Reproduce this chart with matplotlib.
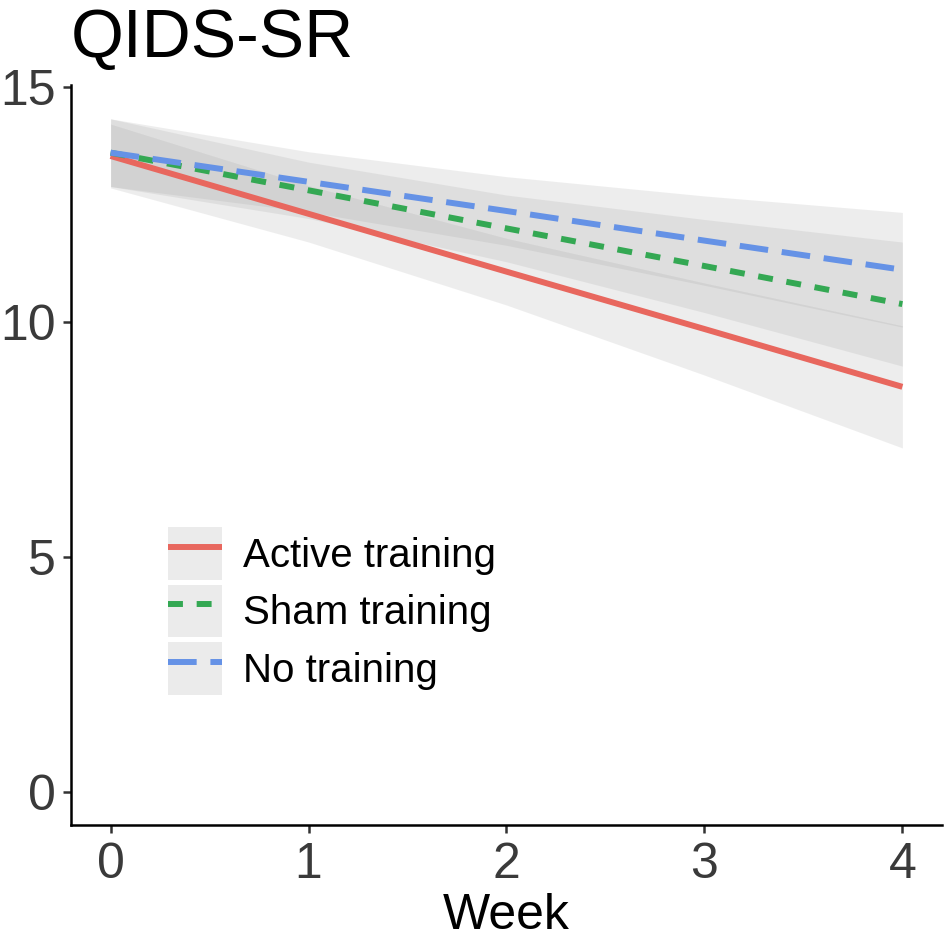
import matplotlib
matplotlib.use("Agg")
import matplotlib.pyplot as plt
from matplotlib.patches import Rectangle

plt.rcParams['font.family'] = ['Liberation Sans', 'DejaVu Sans']

# ----------------------------------------
# Data
# ----------------------------------------
weeks = [0, 1, 2, 3, 4]
groups = ["Active training", "Sham training", "No training"]

active_mean = [13.53, 12.30, 11.07, 9.85, 8.62]
active_low = [12.85, 11.70, 10.36, 8.87, 7.32]
active_high = [14.21, 12.90, 11.78, 10.83, 9.92]

sham_mean = [13.60, 12.80, 11.99, 11.19, 10.38]
sham_low = [12.88, 12.20, 11.28, 10.20, 9.06]
sham_high = [14.32, 13.40, 12.70, 12.18, 11.70]

none_mean = [13.60, 12.98, 12.36, 11.73, 11.11]
none_low = [12.88, 12.34, 11.63, 10.78, 9.89]
none_high = [14.32, 13.62, 13.09, 12.68, 12.33]

colors = ['#E8675E', '#34A853', '#6592E6']
dashes = [None, (2.5, 2.3), (4.8, 2.3)]

means = [active_mean, sham_mean, none_mean]
lows = [active_low, sham_low, none_low]
highs = [active_high, sham_high, none_high]

# ----------------------------------------
# Plot
# ----------------------------------------
fig = plt.figure(figsize=(9.45, 9.4), dpi=100)
ax = fig.add_axes([0.0751, 0.1223, 0.9217, 0.7873])

# confidence ribbons
for lo, hi in zip(lows, highs):
    ax.fill_between(weeks, lo, hi, color='#999999', alpha=0.17, linewidth=0, zorder=1)

# fitted lines + legend keys (grey key background like ggplot)
handles = []
for name, m, c, d in zip(groups, means, colors, dashes):
    if d is None:
        ln, = ax.plot(weeks, m, color=c, linewidth=4.3, solid_capstyle='butt', zorder=3)
    else:
        ln, = ax.plot(weeks, m, color=c, linewidth=4.3, linestyle=(0, d),
                      dash_capstyle='butt', zorder=3)
    key_bg = Rectangle((0, 0), 1, 1, facecolor='#EBEBEB', edgecolor='none')
    handles.append((key_bg, ln))

ax.set_xlim(-0.2, 4.2)
ax.set_ylim(-0.7, 15.04)
ax.set_xticks([0, 1, 2, 3, 4])
ax.set_yticks([0, 5, 10, 15])

for side in ['top', 'right']:
    ax.spines[side].set_visible(False)
for side in ['left', 'bottom']:
    ax.spines[side].set_linewidth(1.8)
    ax.spines[side].set_color('black')

ax.tick_params(axis='both', length=6, width=1.8, color='#333333',
               labelsize=36, labelcolor='#3A3A3A')
ax.tick_params(axis='x', pad=6)
ax.tick_params(axis='y', pad=5)

ax.set_xlabel("Week", fontsize=36, labelpad=4)
ax.set_title("QIDS-SR", loc='left', fontsize=49, pad=20)

ax.legend(handles, groups, loc='upper left', bbox_to_anchor=(0.111, 0.4027),
          frameon=False, fontsize=29, handlelength=1.35, handleheight=1.64,
          handletextpad=0.52, labelspacing=0.12, borderpad=0, borderaxespad=0)

fig.savefig("out.png", dpi=100)
